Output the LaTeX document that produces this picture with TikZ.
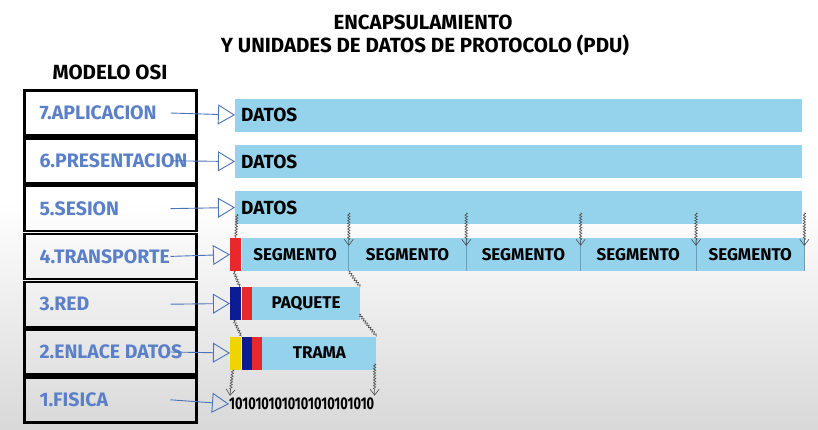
\documentclass[tikz,border=0pt]{standalone}
\usepackage{fontspec}
\setmainfont{Fira Sans}
\usepackage{graphicx}
\usetikzlibrary{arrows.meta,positioning,calc,decorations.pathmorphing}
\definecolor{pduBlue}{HTML}{95D3EC}
\definecolor{osiBlue}{HTML}{5B80C8}
\definecolor{arrBlue}{HTML}{4A72B8}
\definecolor{encRed}{HTML}{E8282B}
\definecolor{encNavy}{HTML}{0B1C94}
\definecolor{encYellow}{HTML}{F0D400}
\definecolor{segLine}{HTML}{6E9DB5}

\begin{document}
\begin{tikzpicture}[x=1pt,y=-1pt,
  bigfont/.style={font=\fontsize{20.5}{22}\selectfont\bfseries},
  pdufont/.style={font=\fontsize{17}{19}\selectfont\bfseries},
  osibox/.style={draw=black,line width=2.4pt,minimum width=172pt,minimum height=45pt,inner sep=0pt},
  osilabel/.style={font=\fontsize{19.5}{21}\selectfont\bfseries,text=osiBlue,inner sep=0pt,anchor=west},
  osiarrow/.style={draw=arrBlue,line width=0.9pt,-{Triangle[open,length=17pt,width=20pt,line width=0.9pt]}},
  pdubar/.style={fill=pduBlue,minimum height=33pt,inner sep=0pt,anchor=west,pdufont},
  datosbar/.style={pdubar,text width=555pt,inner xsep=6pt,align=left,font=\fontsize{19}{21}\selectfont\bfseries},
  enchdr/.style={minimum height=33pt,minimum width=#1,inner sep=0pt,anchor=west},
  wavyline/.style={draw=black!70,line width=0.6pt,decorate,decoration={snake,amplitude=1.2pt,segment length=2.8pt}},
  wavyarrow/.style={wavyline,decoration={snake,amplitude=1.2pt,segment length=2.8pt,post length=6pt},-{Straight Barb[length=6pt,width=9pt]}}]
\useasboundingbox (0,0) rectangle (818,429);
% background, grey towards the bottom
\fill[white] (0,0) rectangle (818,429);
\shade[top color=white,bottom color=black!15] (0,200) rectangle (818,429);

% titles
\node[bigfont] (title1) at (423,22) {ENCAPSULAMIENTO};
\node[bigfont] (title2) at (425,45) {Y UNIDADES DE DATOS DE PROTOCOLO (PDU)};
\node[bigfont] (osiTitle) at (110,72) {MODELO OSI};

% OSI stack
\foreach \n/\txt [count=\i from 0] in {7/7.APLICACION,6/6.PRESENTACION,5/5.SESION,4/4.TRANSPORTE,3/3.RED,2/2.ENLACE DATOS,1/1.FISICA}{
  \node[osibox] (osi\n) at (110.5,113+47.8*\i) {};
  \node[osilabel] (lab\n) at ([xshift=16pt]osi\n.west) {\txt};
}

% DATOS bars
\node[datosbar] (datos7) at (235,115) {DATOS};
\node[datosbar] (datos6) at (235,161.5) {DATOS};
\node[datosbar] (datos5) at (235,207.5) {DATOS};

% segments
\node[enchdr=11pt,fill=encRed] (seg0) at (230,254.5) {};
\node[pdubar,minimum width=107pt] (seg1) at (seg0.east) {SEGMENTO};
\node[pdubar,minimum width=117pt] (seg2) at (seg1.east) {SEGMENTO};
\node[pdubar,minimum width=114pt] (seg3) at (seg2.east) {SEGMENTO};
\node[pdubar,minimum width=115pt] (seg4) at (seg3.east) {SEGMENTO};
\node[pdubar,minimum width=108pt] (seg5) at (seg4.east) {SEGMENTO};
\foreach \s in {1,...,5}
  \draw[segLine,line width=0.8pt] (seg\s.north east) -- (seg\s.south east);

% paquete
\node[enchdr=11pt,fill=encNavy] (paqIp) at (230,303.5) {};
\node[enchdr=10pt,fill=encRed] (paqTcp) at (paqIp.east) {};
\node[pdubar,minimum width=108pt] (paquete) at (paqTcp.east) {PAQUETE};

% trama
\node[enchdr=11pt,fill=encYellow] (trEth) at (230,353) {};
\node[enchdr=10pt,fill=encNavy] (trIp) at (trEth.east) {};
\node[enchdr=10pt,fill=encRed] (trTcp) at (trIp.east) {};
\node[pdubar,minimum width=114pt] (trama) at (trTcp.east) {TRAMA};

% bits
\node[inner sep=0pt,anchor=west] (bits) at (229,404)
  {\resizebox{145pt}{\height}{\fontsize{17}{18}\selectfont\bfseries 1010101010101010101010}};

% wavy links between the PDUs
\draw[wavyline] ($(datos5.south west)+(2,-10)$) -- (seg0.north);
\foreach \s in {1,...,5}
  \draw[wavyarrow] ($(seg\s.north east)+(0,-25)$) -- ($(seg\s.north east)+(0,8)$);
\draw[wavyline] ($(seg0.south)+(-2,0)$) -- ($(paqIp.north)+(4,0)$);
\draw[wavyline] (seg1.south east) -- (paquete.north east);
\draw[wavyline] ($(paqIp.south)+(-2,0)$) -- (trEth.north east);
\draw[wavyline] ($(paquete.south east)+(-1,-6)$) -- (trama.north east);
\draw[wavyarrow] ($(trEth.south)+(-3,0)$) -- ($(bits.north west)+(1,-2)$);
\draw[wavyarrow] ($(trama.south east)+(-2,-6)$) -- ($(trama.south east)+(-2,26)$);

% arrows from the layers
\draw[osiarrow] ([xshift=60pt]osi7.center) -- (datos7.west);
\draw[osiarrow] ([xshift=60pt]osi6.center) -- (datos6.west);
\draw[osiarrow] ([xshift=60pt]osi5.center) -- (datos5.west);
\draw[osiarrow] ([xshift=60pt]osi4.center) -- (seg0.west);
\draw[osiarrow] ([xshift=60pt]osi3.center) -- (paqIp.west);
\draw[osiarrow] ([xshift=60pt]osi2.center) -- (trEth.west);
\draw[osiarrow] ([xshift=60pt]osi1.center) -- (bits.west);
\end{tikzpicture}
\end{document}
